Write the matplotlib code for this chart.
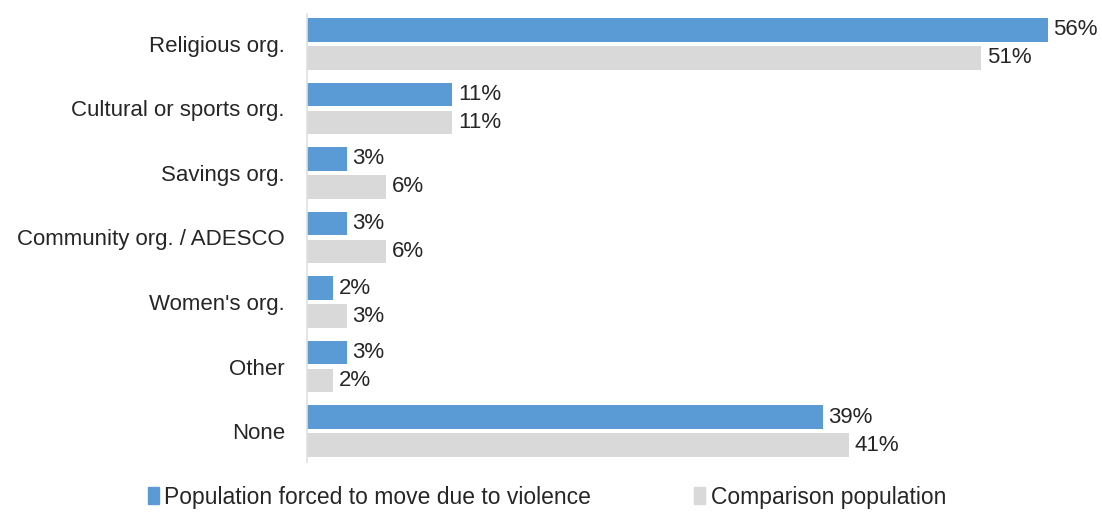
import matplotlib.pyplot as plt
from matplotlib.patches import Patch

plt.rcParams['font.family'] = ['Liberation Sans', 'DejaVu Sans']

categories = ["Religious org.", "Cultural or sports org.", "Savings org.",
              "Community org. / ADESCO", "Women's org.", "Other", "None"]
displaced = [56, 11, 3, 3, 2, 3, 39]
comparison = [51, 11, 6, 6, 3, 2, 41]

blue = "#5b9bd5"
gray = "#d9d9d9"
txt = "#262626"

fig = plt.figure(figsize=(11.02, 5.14), dpi=100)
ax = fig.add_axes([0.2786, 0.1012, 0.72, 0.8716])

y = list(range(len(categories)))
h = 0.37
off = 0.217
ax.barh([i - off for i in y], displaced, height=h, color=blue)
ax.barh([i + off for i in y], comparison, height=h, color=gray)

for i in y:
    ax.annotate(f"{displaced[i]}%", (displaced[i], i - off), xytext=(4, 0),
                textcoords="offset points", va="center", ha="left",
                fontsize=16, color=txt)
    ax.annotate(f"{comparison[i]}%", (comparison[i], i + off), xytext=(4, 0),
                textcoords="offset points", va="center", ha="left",
                fontsize=16, color=txt)

ax.set_yticks(y)
ax.set_yticklabels(categories, fontsize=16, color=txt)
ax.set_ylim(6.48, -0.465)
ax.set_xlim(0, 60)
ax.set_xticks([])
ax.tick_params(axis="y", length=0, pad=16)
for s in ["top", "right", "bottom"]:
    ax.spines[s].set_visible(False)
ax.spines["left"].set_color("#e0e0e0")
ax.spines["left"].set_linewidth(1.2)

handles = [Patch(color=blue), Patch(color=gray)]
labels = ["Population forced to move due to violence", "Comparison population"]
fig.legend(handles, labels, loc="center left", bbox_to_anchor=(0.116, 0.033),
           ncol=2, frameon=False, fontsize=16.5, handlelength=0.45, handleheight=0.7,
           handletextpad=0.25, columnspacing=4.5, labelcolor=txt)

fig.savefig("out.png", dpi=100)
